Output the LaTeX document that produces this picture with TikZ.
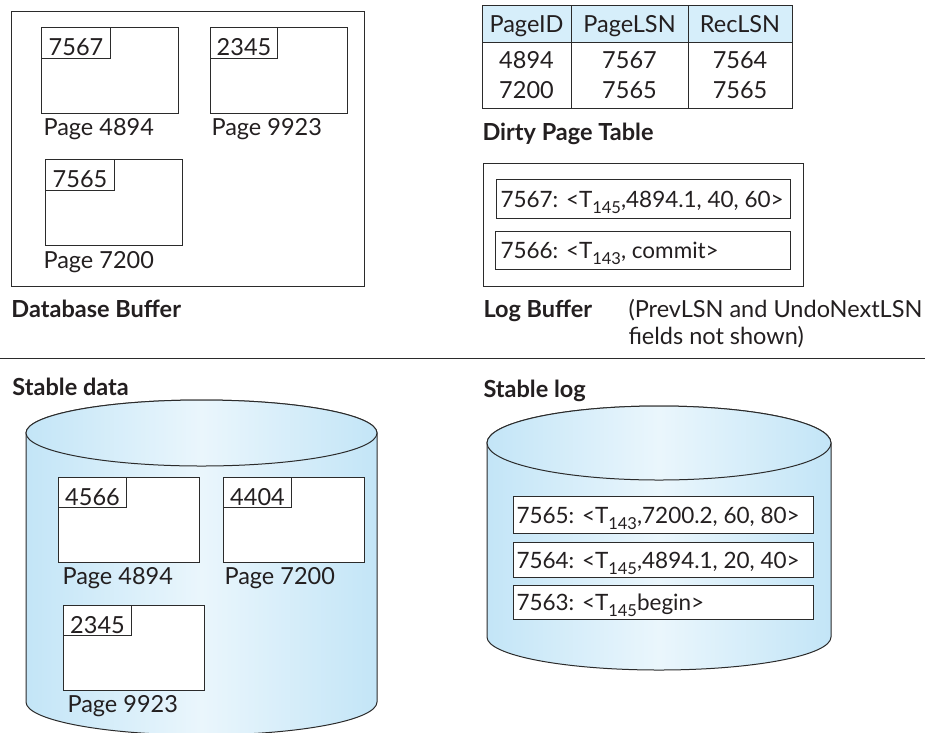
\documentclass[tikz,border=0pt]{standalone}
\usepackage{fontspec}
\setmainfont{Lato}
\definecolor{ln}{HTML}{2B2B2B}
\definecolor{tx}{HTML}{231F20}
\definecolor{hdr}{HTML}{D6EEFA}
\definecolor{cb}{HTML}{C3E5F7}
\definecolor{cl}{HTML}{EAF6FC}
\newcommand{\fs}{\fontsize{23.5}{27}\selectfont}
\newcommand{\fe}{\fontsize{22.5}{26}\selectfont}
\newcommand{\lsub}[1]{\raisebox{-6pt}{\fontsize{16.5}{18}\selectfont #1}}
\begin{document}
\begin{tikzpicture}[x=1pt,y=-1pt,line width=1pt,
  every node/.style={text=tx},
  pagebox/.style={draw=ln,fill=white,inner sep=0pt,anchor=north west,minimum width=137pt,minimum height=86pt},
  lsnbox/.style={draw=ln,inner sep=0pt,anchor=north west,minimum width=69pt,minimum height=31pt,text height=25pt,text depth=0pt,font=\fs},
  lbl/.style={anchor=base west,inner sep=0pt,font=\fs},
  bold/.style={anchor=base west,inner sep=0pt,font=\fs\bfseries},
  entrybox/.style={draw=ln,fill=white,inner sep=0pt,anchor=north west},
  entrytext/.style={anchor=west,inner sep=0pt,text height=16pt,text depth=0pt,font=\fe},
  cell/.style={draw=ln,inner sep=0pt,anchor=north west},
  celltext/.style={anchor=base,inner sep=0pt,font=\fs},
  cyl/.style={draw=ln,left color=cb,right color=cb,middle color=cl}]
\useasboundingbox (0,0) rectangle (939,732);
\clip (0,0) rectangle (939,732);

% ---------- Database buffer ----------
\node[draw=ln,inner sep=0pt,anchor=north west,minimum width=353pt,minimum height=275pt] (dbbuf) at (11,11) {};
\node[pagebox] (p4894) at (41,27) {};
\node[lsnbox] (l4894) at (41,27) {7567};
\node[lbl] (t4894) at (43,135) {Page 4894};
\node[pagebox] (p9923) at (210,27) {};
\node[lsnbox,minimum width=67pt] (l9923) at (210,27) {2345};
\node[lbl] (t9923) at (211,135) {Page 9923};
\node[pagebox] (p7200) at (45,159) {};
\node[lsnbox] (l7200) at (45,159) {7565};
\node[lbl] (t7200) at (43,268) {Page 7200};
\node[bold] (dbl) at (11,317) {Database Buffer};

% ---------- Dirty page table ----------
\node[cell,fill=hdr,minimum width=89pt,minimum height=37pt] (h1) at (482,5) {};
\node[cell,fill=hdr,minimum width=117pt,minimum height=37pt] (h2) at (571,5) {};
\node[cell,fill=hdr,minimum width=104pt,minimum height=37pt] (h3) at (688,5) {};
\node[cell,minimum width=89pt,minimum height=66pt] (c1) at (482,42) {};
\node[cell,minimum width=117pt,minimum height=66pt] (c2) at (571,42) {};
\node[cell,minimum width=104pt,minimum height=66pt] (c3) at (688,42) {};
\node[celltext] (th1) at (526.5,32) {PageID};
\node[celltext] (th2) at (629.5,32) {PageLSN};
\node[celltext] (th3) at (740,32) {RecLSN};
\node[celltext] (r11) at (526.5,68) {4894};
\node[celltext] (r12) at (629.5,68) {7567};
\node[celltext] (r13) at (740,68) {7564};
\node[celltext] (r21) at (526.5,98) {7200};
\node[celltext] (r22) at (629.5,98) {7565};
\node[celltext] (r23) at (740,98) {7565};
\node[bold] (dpt) at (482,140) {Dirty Page Table};

% ---------- Log buffer ----------
\node[draw=ln,inner sep=0pt,anchor=north west,minimum width=320pt,minimum height=123pt] (logbuf) at (483,163) {};
\node[entrybox,minimum width=294pt,minimum height=39pt] (e1) at (496,179) {};
\node[entrytext] (et1) at ([xshift=4pt]e1.west) {7567: <T\lsub{145},4894.1, 40, 60>};
\node[entrybox,minimum width=295pt,minimum height=38pt] (e2) at (495,231) {};
\node[entrytext] (et2) at ([xshift=5pt]e2.west) {7566: <T\lsub{143}, commit>};
\node[bold] (lbl) at (483,317) {Log Buffer};
\node[lbl] (note1) at (628,317) {(PrevLSN and UndoNextLSN};
\node[lbl] (note2) at (628,344) {fields not shown)};

% ---------- separator ----------
\draw[ln] (0,358) -- (925,358);

% ---------- Stable data ----------
\node[bold] (sdl) at (12,395) {Stable data};
\draw[cyl] (26,433) -- (26,702) arc[start angle=180,end angle=360,x radius=175.5pt,y radius=33pt]
  -- (377,433) arc[start angle=0,end angle=180,x radius=175.5pt,y radius=33pt] -- cycle;
\draw[cyl] (201.5,433) ellipse[x radius=175.5pt,y radius=33pt];
\node[pagebox,minimum width=141pt,minimum height=85pt] (s4894) at (58,477) {};
\node[lsnbox,minimum width=68pt,minimum height=30pt] (sl4894) at (58,477) {4566};
\node[lbl] (st4894) at (62,584) {Page 4894};
\node[pagebox,minimum width=141pt,minimum height=85pt] (s7200) at (223,477) {};
\node[lsnbox,minimum width=68pt,minimum height=30pt] (sl7200) at (223,477) {4404};
\node[lbl] (st7200) at (224,584) {Page 7200};
\node[pagebox,minimum width=141pt,minimum height=85pt] (s9923) at (63,605) {};
\node[lsnbox,minimum width=68pt,minimum height=30pt] (sl9923) at (63,605) {2345};
\node[lbl] (st9923) at (67,712) {Page 9923};

% ---------- Stable log ----------
\node[bold] (sll) at (483,397) {Stable log};
\draw[cyl] (487,443) -- (487,637) arc[start angle=180,end angle=360,x radius=172pt,y radius=33pt]
  -- (831,443) arc[start angle=0,end angle=180,x radius=172pt,y radius=37pt] -- cycle;
\draw[cyl] (659,443) ellipse[x radius=172pt,y radius=37pt];
\node[entrybox,minimum width=300pt,minimum height=37pt] (s1) at (513,496) {};
\node[entrytext] (st1) at ([xshift=3pt]s1.west) {7565: <T\lsub{143},7200.2, 60, 80>};
\node[entrybox,minimum width=300pt,minimum height=35pt] (s2) at (513,542) {};
\node[entrytext] (st2) at ([xshift=3pt]s2.west) {7564: <T\lsub{145},4894.1, 20, 40>};
\node[entrybox,minimum width=300pt,minimum height=34pt] (s3) at (513,585) {};
\node[entrytext] (st3) at ([xshift=3pt]s3.west) {7563: <T\lsub{145}begin>};
\end{tikzpicture}
\end{document}
